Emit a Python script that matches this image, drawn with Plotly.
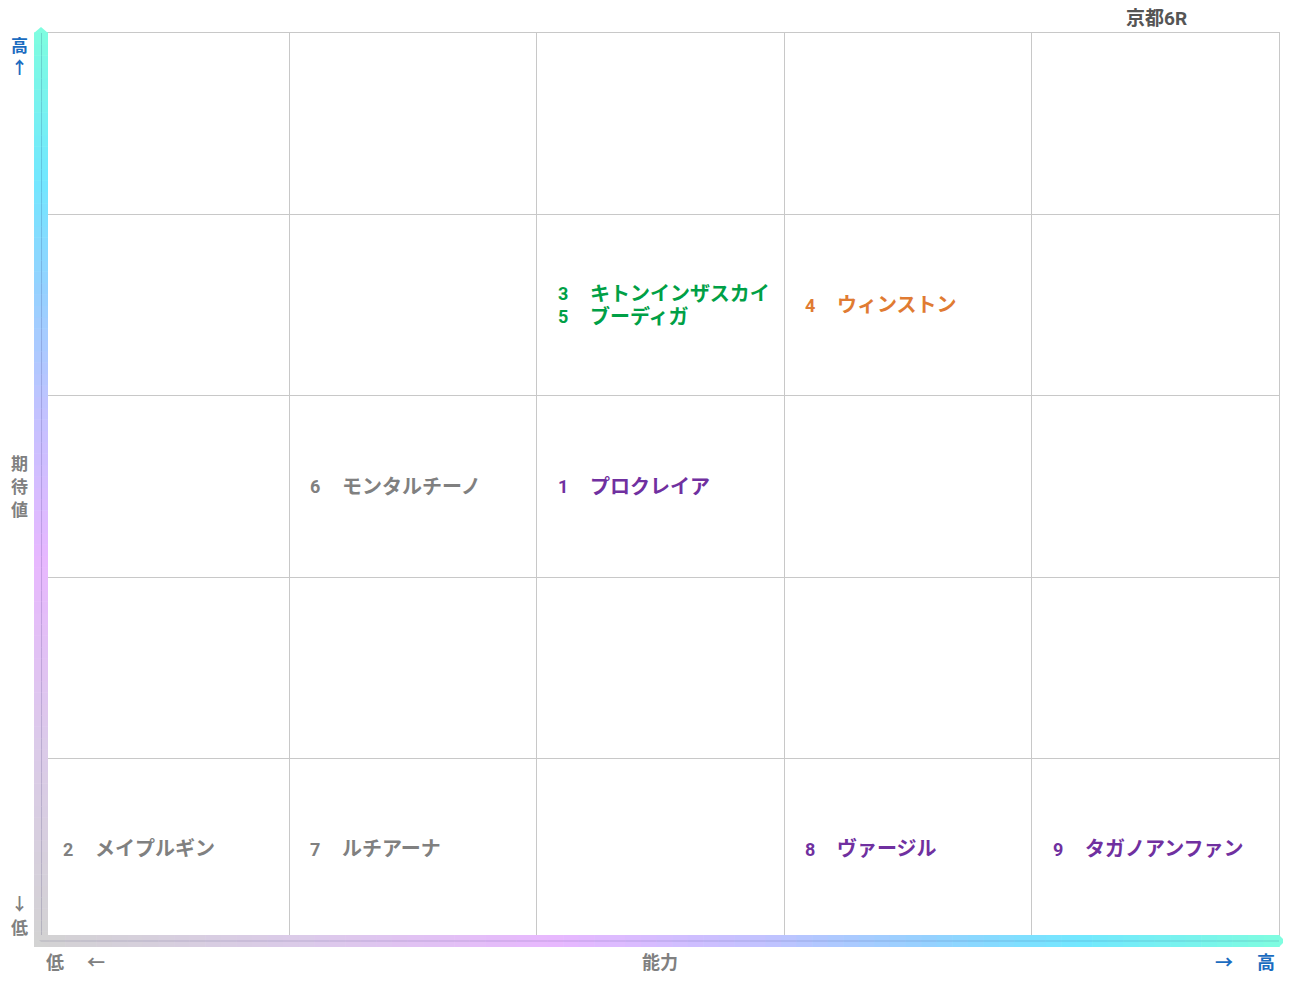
import plotly.graph_objects as go

# ---- data ----
title_text = "京都6R"
horse_numbers = [1, 2, 3, 4, 5, 6, 7, 8, 9]
horse_names = ["プロクレイア", "メイプルギン", "キトンインザスカイ", "ウィンストン",
               "ブーディガ", "モンタルチーノ", "ルチアーナ", "ヴァージル", "タガノアンファン"]
ability = [3, 1, 3, 4, 3, 2, 2, 4, 5]        # column 1..5 (能力)
expectation = [3, 1, 4, 4, 4, 3, 1, 1, 1]    # row 1..5 (期待値)
horse_colors = ["#7030a0", "#808080", "#00a046", "#e07b32", "#00a046",
                "#808080", "#808080", "#7030a0", "#7030a0"]

OFF = 8  # page body margin offset
W, H = 1291 - OFF, 983 - OFF
# plot area in screen pixels
L, R, T, B = 42, 1279, 33, 940
PW, PH = R - L, B - T

def px(x):
    return (x - L) / PW

def py(y):
    return (B - y) / PH

FONT = "Roboto, Noto Sans CJK JP"
GREY = "#808080"
BLUE = "#1a6cc0"

fig = go.Figure()
fig.add_trace(go.Scatter(x=[0, 5], y=[0, 5], mode="markers",
                         marker=dict(opacity=0), hoverinfo="skip", showlegend=False))

annotations = []
# horse labels, grouped per cell
cells = {}
for i in range(len(horse_numbers)):
    cells.setdefault((ability[i], expectation[i]), []).append(i)
for (col, row), idxs in cells.items():
    n = len(idxs)
    for k, i in enumerate(idxs):
        ys = -((k - (n - 1) / 2) * 23)
        color = horse_colors[i]
        annotations.append(dict(x=col - 1, y=row - 0.5, xref="x", yref="y",
                                text=f"<b>{horse_numbers[i]}</b>", showarrow=False,
                                xanchor="left", yanchor="middle", xshift=20, yshift=ys,
                                borderpad=0,
                                font=dict(family=FONT, size=18, color=color)))
        annotations.append(dict(x=col - 1, y=row - 0.5, xref="x", yref="y",
                                text=f"<b>{horse_names[i]}</b>", showarrow=False,
                                xanchor="left", yanchor="middle", xshift=52, yshift=ys,
                                borderpad=0,
                                font=dict(family=FONT, size=20, color=color)))

def lab(text, x, y, color, size=18, xanchor="center"):
    annotations.append(dict(x=px(x), y=py(y), xref="paper", yref="paper",
                            text=f"<b>{text}</b>", showarrow=False, borderpad=0,
                            xanchor=xanchor, yanchor="middle",
                            font=dict(family=FONT, size=size, color=color)))

lab(title_text, 1156, 18, "#555555", size=19)
lab("高", 19, 46, BLUE, size=17)
lab("↑", 19, 68, BLUE, size=17)
lab("期", 19, 464, GREY, size=17)
lab("待", 19, 487, GREY, size=17)
lab("値", 19, 510, GREY, size=17)
lab("↓", 19, 904, GREY, size=17)
lab("低", 19, 928, GREY, size=17)
lab("低", 55, 962, GREY)
lab("←", 96, 962, GREY)
lab("能力", 660, 962, GREY)
lab("→", 1224, 962, BLUE)
lab("高", 1266, 962, BLUE)

# gradient bars
def hex2rgb(h):
    h = h.lstrip("#")
    return tuple(int(h[i:i + 2], 16) for i in (0, 2, 4))

def interp(stops, t):
    for j in range(len(stops) - 1):
        t0, c0 = stops[j]
        t1, c1 = stops[j + 1]
        if t0 <= t <= t1:
            f = (t - t0) / (t1 - t0) if t1 > t0 else 0
            a, b = hex2rgb(c0), hex2rgb(c1)
            return tuple(int(a[m] + (b[m] - a[m]) * f) for m in range(3))
    return hex2rgb(stops[-1][1])

# t = 0 at low (grey) end, 1 at high end
stops = [(0.0, "#d3d3d3"), (0.22, "#dccbea"), (0.42, "#e8b8ff"), (0.58, "#c4c2ff"),
         (0.72, "#95d2ff"), (0.84, "#72e8ff"), (1.0, "#7ffde0")]

shapes = []
N = 80
# vertical bar: x 34..48, y 943 (low) .. 33 (high)
vy0, vy1 = 943, 33
for s in range(N):
    t = (s + 0.5) / N
    r, g, b = interp(stops, t)
    ya = vy0 + (vy1 - vy0) * s / N
    yb = vy0 + (vy1 - vy0) * (s + 1) / N
    shapes.append(dict(type="rect", xref="paper", yref="paper",
                       x0=px(34), x1=px(48), y0=py(ya), y1=py(yb) + 0.0006,
                       fillcolor=f"rgb({r},{g},{b})", line=dict(width=0), layer="above"))
    shapes.append(dict(type="rect", xref="paper", yref="paper",
                       x0=px(41), x1=px(42), y0=py(ya), y1=py(yb) + 0.0006,
                       fillcolor=f"rgb({int(r*0.85)},{int(g*0.85)},{int(b*0.9)})",
                       line=dict(width=0), layer="above"))
# horizontal bar: y 935..947, x 34 (low) .. 1279 (high)
hx0, hx1 = 34, 1279
for s in range(N):
    t = (s + 0.5) / N
    r, g, b = interp(stops, t)
    xa = hx0 + (hx1 - hx0) * s / N
    xb = hx0 + (hx1 - hx0) * (s + 1) / N
    shapes.append(dict(type="rect", xref="paper", yref="paper",
                       x0=px(xa), x1=px(xb) + 0.0005, y0=py(947), y1=py(935),
                       fillcolor=f"rgb({r},{g},{b})", line=dict(width=0), layer="above"))
    shapes.append(dict(type="rect", xref="paper", yref="paper",
                       x0=px(xa), x1=px(xb) + 0.0005, y0=py(941.5), y1=py(940.5),
                       fillcolor=f"rgb({int(r*0.85)},{int(g*0.85)},{int(b*0.9)})",
                       line=dict(width=0), layer="above"))
# arrow tips
shapes.append(dict(type="path", xref="paper", yref="paper",
                   path=f"M {px(34)},{py(33)} L {px(41)},{py(27)} L {px(48)},{py(33)} Z",
                   fillcolor="#7ffde0", line=dict(width=0), layer="above"))
shapes.append(dict(type="path", xref="paper", yref="paper",
                   path=f"M {px(1279)},{py(935)} L {px(1285)},{py(941)} L {px(1279)},{py(947)} Z",
                   fillcolor="#7ffde0", line=dict(width=0), layer="above"))
# corner
shapes.append(dict(type="path", xref="paper", yref="paper",
                   path=f"M {px(34)},{py(935)} L {px(34)},{py(947)} L {px(46)},{py(947)} Z",
                   fillcolor="#d3d3d3", line=dict(width=0), layer="above"))

fig.update_layout(
    width=W, height=H,
    margin=dict(l=L - OFF, r=W - (R - OFF), t=T - OFF, b=H - (B - OFF)),
    plot_bgcolor="white", paper_bgcolor="white",
    showlegend=False,
    xaxis=dict(range=[0, 5], dtick=1, tick0=0, showgrid=True, gridcolor="#c8c8c8",
               gridwidth=1, showticklabels=False, zeroline=False, ticks="",
               showline=True, linecolor="#c8c8c8", mirror=True, fixedrange=True),
    yaxis=dict(range=[0, 5], dtick=1, tick0=0, showgrid=True, gridcolor="#c8c8c8",
               gridwidth=1, showticklabels=False, zeroline=False, ticks="",
               showline=True, linecolor="#c8c8c8", mirror=True, fixedrange=True),
    annotations=annotations,
    shapes=shapes,
)

fig.write_html("out.html")
